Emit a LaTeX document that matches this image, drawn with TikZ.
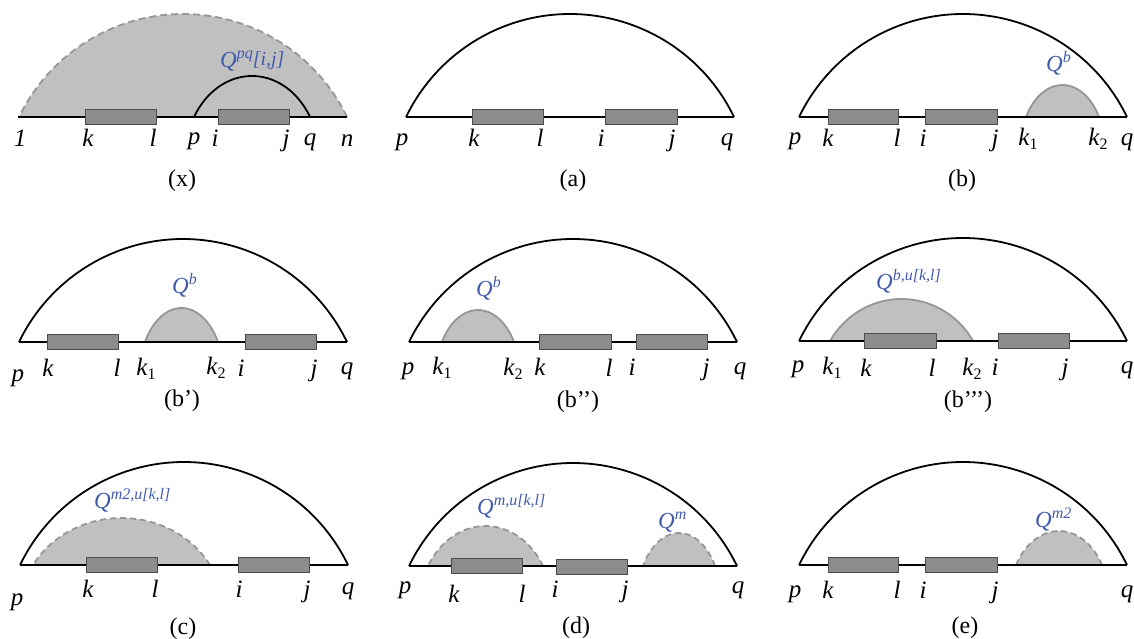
\documentclass[tikz,border=0pt]{standalone}
\usepackage{fontspec}
\setmainfont{Liberation Serif}
\definecolor{qblue}{RGB}{66,90,172}
\definecolor{fillgray}{RGB}{192,192,192}
\definecolor{boxgray}{RGB}{140,140,140}
\definecolor{edgegray}{RGB}{150,150,150}
\tikzset{
  baseln/.style={line width=1.8pt, black},
  bigarc/.style={line width=1.8pt, black},
  segbox/.style={draw=black!70, line width=0.9pt, fill=boxgray},
  solidbump/.style={fill=fillgray, draw=edgegray, line width=1.8pt},
  dashbump/.style={fill=fillgray, draw=edgegray, line width=1.8pt, dash pattern=on 6pt off 4pt},
  blackbump/.style={draw=black, line width=1.8pt},
  lbl/.style={anchor=base, inner sep=0pt, font=\fontsize{25}{29}\selectfont\itshape},
  capt/.style={anchor=base, inner sep=0pt, font=\fontsize{24}{28}\selectfont},
  qlbl/.style={anchor=base west, inner sep=0pt, text=qblue, font=\fontsize{23}{27}\selectfont\itshape},
}
% big arc from right end (x = #2) at baseline #3
\newcommand{\BigArc}[3]{\draw[#1] (#2,-#3) arc[start angle=25.75, end angle=154.25, radius=182.06pt];}
% bump (elliptical segment): style, x1, x2, baseline, height
\newcommand{\Bump}[5]{\path[#1] (#3,-#4) arc[start angle=30, end angle=150, x radius={0.57735*(#3-#2)*1pt}, y radius={2*#5*1pt}];}
% segment box: x1, x2, baseline
\newcommand{\Seg}[3]{\draw[segbox] (#1,{-#3+7.5}) rectangle (#2,{-#3-7.5});}
\newcommand{\kk}[1]{k\raisebox{-4pt}{\fontsize{16}{16}\selectfont\upshape #1}}
\newcommand{\Qs}[1]{Q\raisebox{9pt}{\fontsize{16}{16}\selectfont #1}}
\begin{document}
\begin{tikzpicture}[x=1pt,y=1pt]
\useasboundingbox (0,0) rectangle (1134,-639);
\fill[white] (0,0) rectangle (1134,-639);

% ===== (x) =====
\fill[fillgray] (347,-117) arc[start angle=25.75, end angle=154.25, radius=182.06pt] -- cycle;
\draw[edgegray, line width=1.8pt, dash pattern=on 7pt off 4pt] (347,-117) arc[start angle=25.75, end angle=154.25, radius=182.06pt];
\coordinate (xp) at (18,-117); \coordinate (xq) at (347,-117);
\draw[baseln] (xp) -- (xq);
\Bump{blackbump}{194}{310}{117}{41}
\Seg{85}{156}{117} \Seg{218}{289}{117}
\node[qlbl] (xQ) at (220,-68) {Q\raisebox{9pt}{\fontsize{16}{16}\selectfont pq}\raisebox{2pt}{\fontsize{20}{20}\selectfont [i,j]}};
\node[lbl] (x1) at (20,-147) {1};
\node[lbl] (xk) at (88,-147) {k};
\node[lbl] (xl) at (153,-147) {l};
\node[lbl] (xpl) at (194,-145) {p};
\node[lbl] (xi) at (215,-147) {i};
\node[lbl] (xj) at (286,-147) {j};
\node[lbl] (xql) at (310,-146) {q};
\node[lbl] (xn) at (347,-147) {n};
\node[capt] (xc) at (182,-186) {(x)};

% ===== (a) =====
\coordinate (ap) at (406,-117); \coordinate (aq) at (734,-117);
\draw[baseln] (ap) -- (aq);
\BigArc{bigarc}{734}{117}
\Seg{472}{543}{117} \Seg{605}{677}{117}
\node[lbl] (apl) at (402,-146) {p};
\node[lbl] (ak) at (474,-147) {k};
\node[lbl] (al) at (540,-147) {l};
\node[lbl] (ai) at (601,-147) {i};
\node[lbl] (aj) at (672,-147) {j};
\node[lbl] (aql) at (727,-146) {q};
\node[capt] (ac) at (573,-186) {(a)};

% ===== (b) =====
\Bump{solidbump}{1026}{1099}{117}{32}
\coordinate (bp) at (799,-117); \coordinate (bq) at (1127,-117);
\draw[baseln] (bp) -- (bq);
\BigArc{bigarc}{1127}{117}
\Seg{828}{898}{117} \Seg{925}{997}{117}
\node[qlbl] (bQ) at (1046,-72) {\Qs{b}};
\node[lbl] (bpl) at (795,-145) {p};
\node[lbl] (bk) at (828,-147) {k};
\node[lbl] (bl) at (897,-147) {l};
\node[lbl] (bi) at (923,-147) {i};
\node[lbl] (bj) at (995,-147) {j};
\node[lbl] (bk1) at (1028,-146) {\kk{1}};
\node[lbl] (bk2) at (1098,-146) {\kk{2}};
\node[lbl] (bql) at (1127,-146) {q};
\node[capt] (bc) at (962,-186) {(b)};

% ===== (b') =====
\Bump{solidbump}{145}{218}{342}{34}
\coordinate (b1p) at (19,-342); \coordinate (b1q) at (347,-342);
\draw[baseln] (b1p) -- (b1q);
\BigArc{bigarc}{347}{342}
\Seg{47}{118}{342} \Seg{245}{316}{342}
\node[qlbl] (b1Q) at (172,-293) {\Qs{b}};
\node[lbl] (b1pl) at (18,-381) {p};
\node[lbl] (b1k) at (48,-376) {k};
\node[lbl] (b1l) at (117,-376) {l};
\node[lbl] (b1k1) at (146,-375) {\kk{1}};
\node[lbl] (b1k2) at (216,-374) {\kk{2}};
\node[lbl] (b1i) at (241,-376) {i};
\node[lbl] (b1j) at (314,-376) {j};
\node[lbl] (b1ql) at (347,-374) {q};
\node[capt] (b1c) at (182,-406) {(b’)};

% ===== (b'') =====
\Bump{solidbump}{442}{514}{342}{32}
\coordinate (b2p) at (409,-342); \coordinate (b2q) at (737,-342);
\draw[baseln] (b2p) -- (b2q);
\BigArc{bigarc}{737}{342}
\Seg{539}{611}{342} \Seg{636}{707}{342}
\node[qlbl] (b2Q) at (476,-296) {\Qs{b}};
\node[lbl] (b2pl) at (408,-374) {p};
\node[lbl] (b2k1) at (442,-374) {\kk{1}};
\node[lbl] (b2k2) at (513,-375) {\kk{2}};
\node[lbl] (b2k) at (540,-375) {k};
\node[lbl] (b2l) at (609,-376) {l};
\node[lbl] (b2i) at (632,-375) {i};
\node[lbl] (b2j) at (706,-375) {j};
\node[lbl] (b2ql) at (740,-374) {q};
\node[capt] (b2c) at (578,-407) {(b’’)};

% ===== (b''') =====
\Bump{solidbump}{830}{973}{341}{42}
\coordinate (b3p) at (799,-341); \coordinate (b3q) at (1127,-341);
\draw[baseln] (b3p) -- (b3q);
\BigArc{bigarc}{1127}{341}
\Seg{864}{936}{341} \Seg{998}{1069}{341}
\node[qlbl] (b3Q) at (876,-289) {\Qs{b,u[k,l]}};
\node[lbl] (b3pl) at (798,-372) {p};
\node[lbl] (b3k1) at (832,-374) {\kk{1}};
\node[lbl] (b3k) at (866,-376) {k};
\node[lbl] (b3l) at (932,-376) {l};
\node[lbl] (b3k2) at (972,-375) {\kk{2}};
\node[lbl] (b3i) at (995,-375) {i};
\node[lbl] (b3j) at (1065,-375) {j};
\node[lbl] (b3ql) at (1127,-373) {q};
\node[capt] (b3c) at (968,-407) {(b’’’)};

% ===== (c) =====
\Bump{dashbump}{33}{210}{565}{47}
\coordinate (cp) at (20,-565); \coordinate (cq) at (348,-565);
\draw[baseln] (cp) -- (cq);
\BigArc{bigarc}{348}{565}
\Seg{86}{157}{565} \Seg{238}{309}{565}
\node[qlbl] (cQ) at (94,-508) {\Qs{m2,u[k,l]}};
\node[lbl] (cpl) at (17,-605) {p};
\node[lbl] (ck) at (88,-597) {k};
\node[lbl] (cl) at (155,-597) {l};
\node[lbl] (ci) at (239,-597) {i};
\node[lbl] (cj) at (307,-597) {j};
\node[lbl] (cql) at (348,-594) {q};
\node[capt] (cc) at (183,-634) {(c)};

% ===== (d) =====
\Bump{dashbump}{428}{543}{566}{40}
\Bump{dashbump}{643}{715}{566}{33}
\coordinate (dp) at (409,-566); \coordinate (dq) at (737,-566);
\draw[baseln] (dp) -- (dq);
\BigArc{bigarc}{737}{566}
\Seg{451}{522}{565.5} \Seg{556}{627}{566.5}
\node[qlbl] (dQ1) at (477,-514) {\Qs{m,u[k,l]}};
\node[qlbl] (dQ2) at (658,-528) {\Qs{m}};
\node[lbl] (dpl) at (405,-593) {p};
\node[lbl] (dk) at (454,-602) {k};
\node[lbl] (dl) at (522,-602) {l};
\node[lbl] (di) at (555,-597) {i};
\node[lbl] (dj) at (625,-597) {j};
\node[lbl] (dql) at (738,-593) {q};
\node[capt] (dc) at (576,-633) {(d)};

% ===== (e) =====
\Bump{dashbump}{1016}{1102}{565}{34}
\coordinate (ep) at (799,-565); \coordinate (eq) at (1127,-565);
\draw[baseln] (ep) -- (eq);
\BigArc{bigarc}{1127}{565}
\Seg{828}{898}{565} \Seg{925}{997}{565}
\node[qlbl] (eQ) at (1035,-527) {\Qs{m2}};
\node[lbl] (epl) at (795,-597) {p};
\node[lbl] (ek) at (828,-598) {k};
\node[lbl] (el) at (897,-598) {l};
\node[lbl] (ei) at (923,-598) {i};
\node[lbl] (ej) at (995,-598) {j};
\node[lbl] (eql) at (1127,-597) {q};
\node[capt] (ec) at (965,-633) {(e)};
\end{tikzpicture}
\end{document}
